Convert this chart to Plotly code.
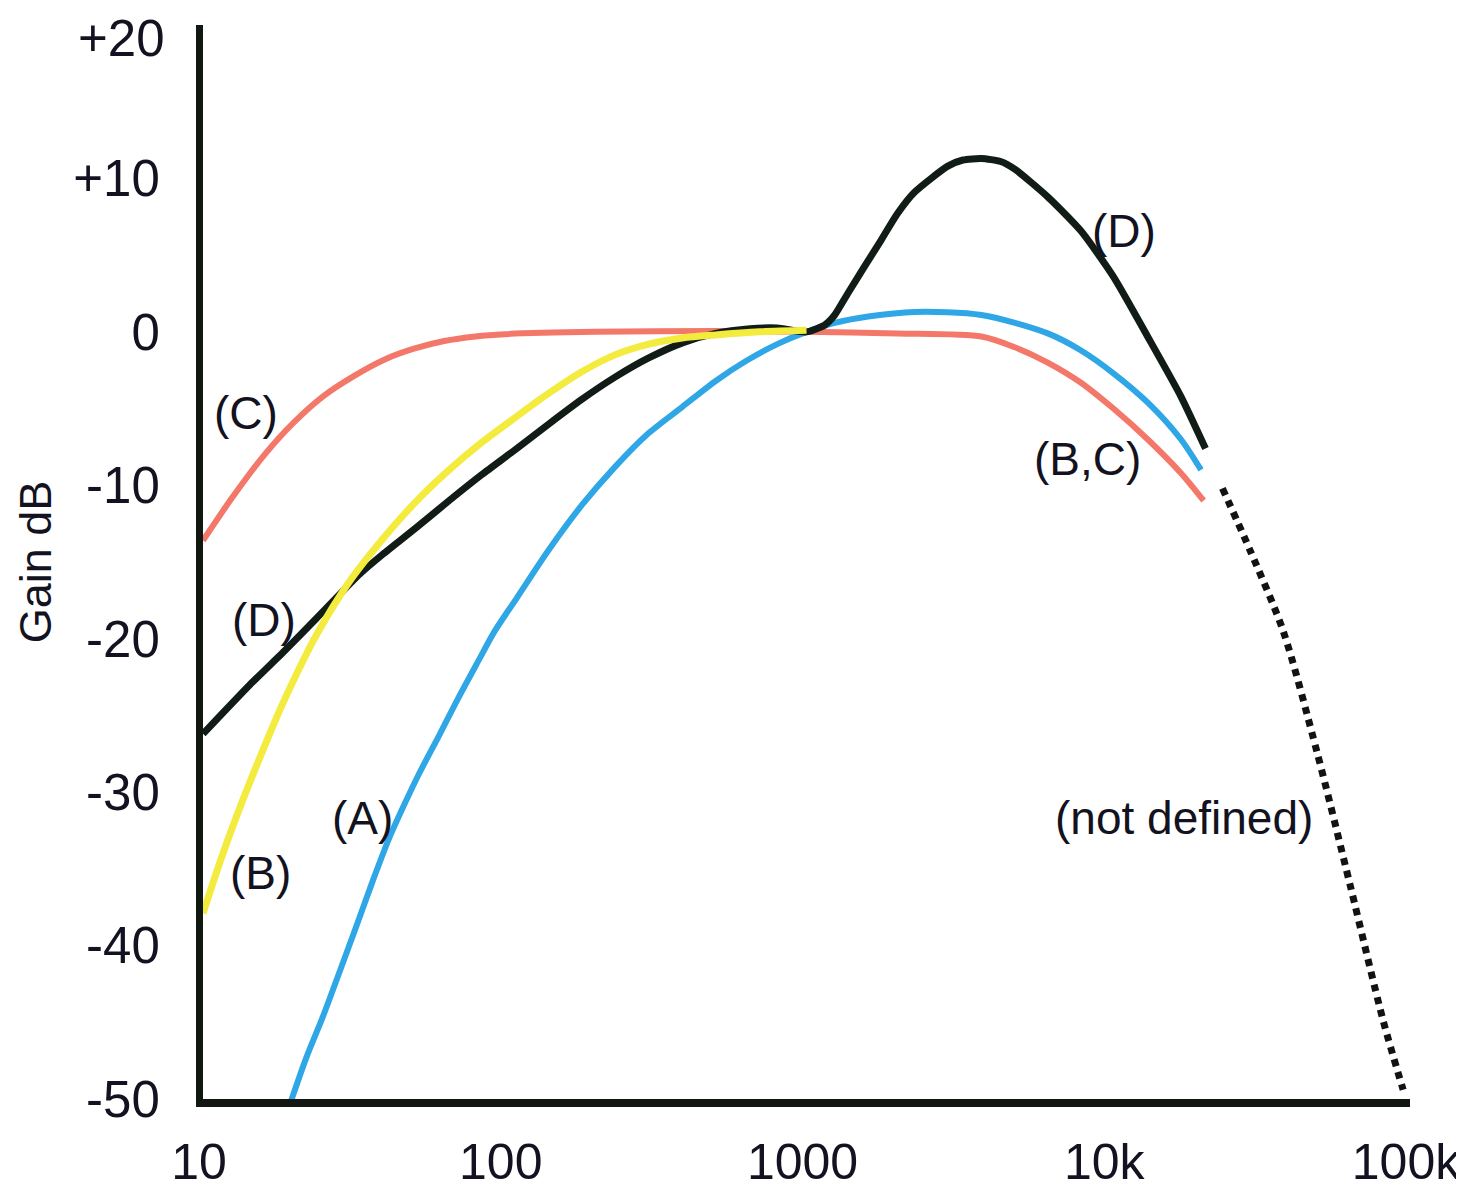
import numpy as np
import plotly.graph_objects as go

# ---- data (frequency in Hz, gain in dB) ----
a_freq = [19.6, 22, 25, 28, 32, 36.5, 41.4, 47, 52, 61, 70, 82, 92, 110, 140, 180, 232, 300,
          387, 500, 630, 800, 1000, 1250, 1600, 2280, 3800, 6300, 8100, 10400, 13500, 17400, 20300]
a_gain = [-50.1, -47.3, -44.6, -42.0, -38.9, -35.8, -33.0, -30.6, -28.8, -26.2, -23.9, -21.4,
          -19.6, -17.3, -14.2, -11.3, -8.8, -6.6, -4.9, -3.2, -1.9, -0.8, 0.0, 0.6, 1.0, 1.3,
          1.1, -0.1, -1.2, -2.7, -4.6, -7.0, -9.0]

c_freq = [10, 12.5, 16, 20, 25, 31.5, 40, 50, 63, 80, 100, 200, 500, 1000, 2000, 3800, 4900,
          6300, 8100, 10400, 13500, 17400, 20700]
c_gain = [-13.6, -10.8, -8.0, -5.9, -4.2, -2.9, -1.8, -1.1, -0.6, -0.3, -0.15, 0.0, 0.05, 0.0,
          -0.1, -0.3, -1.0, -2.0, -3.3, -5.0, -7.0, -9.2, -11.0]

b_freq = [10, 11.5, 13.5, 16, 18.4, 23.7, 30.5, 39.4, 50.6, 65.4, 84, 108, 140, 180, 232, 300,
          387, 500, 700, 1000]
b_gain = [-37.9, -34.3, -30.6, -27.0, -24.2, -19.8, -16.3, -13.5, -11.1, -9.0, -7.2, -5.6, -4.0,
          -2.6, -1.5, -0.8, -0.4, -0.2, 0.0, 0.1]

d_freq = [10, 14.3, 18.4, 23.7, 33, 39.4, 50.6, 65.4, 84, 108, 140, 180, 232, 300, 390, 500,
          650, 800, 1000, 1150, 1240, 1370, 1550, 1770, 2000, 2280, 2940, 3300, 3800, 4400, 4900,
          6300, 8100, 10400, 13500, 17400, 21000]
d_gain = [-26.2, -23.0, -20.9, -18.7, -15.8, -14.5, -12.8, -11.0, -9.3, -7.7, -6.0, -4.4, -2.95,
          -1.7, -0.7, -0.1, 0.2, 0.25, 0.0, 0.45, 1.1, 2.5, 4.2, 6.0, 7.7, 9.1, 10.8, 11.2, 11.3,
          11.1, 10.6, 8.8, 6.6, 3.6, -0.3, -4.2, -7.6]

undef_freq = [23900, 29600, 38000, 49200, 63400, 81500, 94900]
undef_gain = [-10.2, -14.3, -19.5, -27.4, -36.1, -44.9, -49.4]

x_tick_vals = [10, 100, 1000, 10000, 100000]
x_tick_text = ["10", "100", "1000", "10k", "100k"]
y_tick_vals = [20, 10, 0, -10, -20, -30, -40, -50]
y_tick_text = ["+20", "+10", "0", "-10", "-20", "-30", "-40", "-50"]

# curve labels: (text, frequency Hz, gain dB)
labels = [
    ("(C)", 13.9, -5.3),
    ("(D)", 15.9, -18.8),
    ("(B)", 15.5, -35.3),
    ("(A)", 33.8, -31.7),
    ("(D)", 11300, 6.6),
    ("(B,C)", 8550, -8.3),
    ("(not defined)", 17800, -31.7),
]

FONT = "Liberation Sans, Arial, Helvetica, sans-serif"
TXT = "#121220"

fig = go.Figure()
fig.add_trace(go.Scatter(x=c_freq, y=c_gain, mode="lines", name="C",
                         line=dict(color="#f3786a", width=6, shape="spline", smoothing=0.8)))
fig.add_trace(go.Scatter(x=a_freq, y=a_gain, mode="lines", name="A",
                         line=dict(color="#2fa6e6", width=6, shape="spline", smoothing=0.8)))
fig.add_trace(go.Scatter(x=d_freq, y=d_gain, mode="lines", name="D",
                         line=dict(color="#121c16", width=7, shape="spline", smoothing=0.6)))
fig.add_trace(go.Scatter(x=b_freq, y=b_gain, mode="lines", name="B",
                         line=dict(color="#f3eb3e", width=7, shape="spline", smoothing=0.8)))
fig.add_trace(go.Scatter(x=undef_freq, y=undef_gain, mode="lines", name="not defined",
                         line=dict(color="#121212", width=7, dash="7px,6px",
                                   shape="spline", smoothing=0.8)))

for text, f, g in labels:
    fig.add_annotation(x=np.log10(f), y=g, xref="x", yref="y", text=text, showarrow=False,
                       font=dict(family=FONT, size=46, color=TXT),
                       xanchor="center", yanchor="middle")

# top tick label sits a little below its gridline in the reference (it would be cut off otherwise)
fig.add_annotation(x=0, y=y_tick_vals[0], xref="paper", yref="y", text=y_tick_text[0],
                   showarrow=False, xanchor="right", yanchor="middle", xshift=-36, yshift=-13,
                   font=dict(family=FONT, size=51, color=TXT))

# the page adds an 8 px body margin, so the figure is sized to the visible area
fig.update_layout(
    width=1456, height=1182,
    margin=dict(l=195, r=54, t=17, b=91),
    paper_bgcolor="white", plot_bgcolor="white",
    showlegend=False,
    font=dict(family=FONT, color=TXT),
)
fig.update_xaxes(type="log", range=[1, 5], tickvals=x_tick_vals, ticktext=x_tick_text,
                 showgrid=False, zeroline=False, showline=True, linecolor="#111711",
                 linewidth=8, ticks="", ticklabelstandoff=12, ticklabelshift=-4,
                 automargin=False, ticklabeloverflow="allow",
                 tickfont=dict(family=FONT, size=50, color=TXT))
fig.update_yaxes(range=[-50, 20], tickvals=y_tick_vals[1:], ticktext=y_tick_text[1:],
                 showgrid=False, zeroline=False, showline=True, linecolor="#111711",
                 linewidth=7, ticks="", ticklabelstandoff=26, automargin=False,
                 ticklabeloverflow="allow",
                 tickfont=dict(family=FONT, size=51, color=TXT),
                 title=dict(text="Gain dB", font=dict(family=FONT, size=45, color=TXT),
                            standoff=10))

fig.write_html("out.html")
